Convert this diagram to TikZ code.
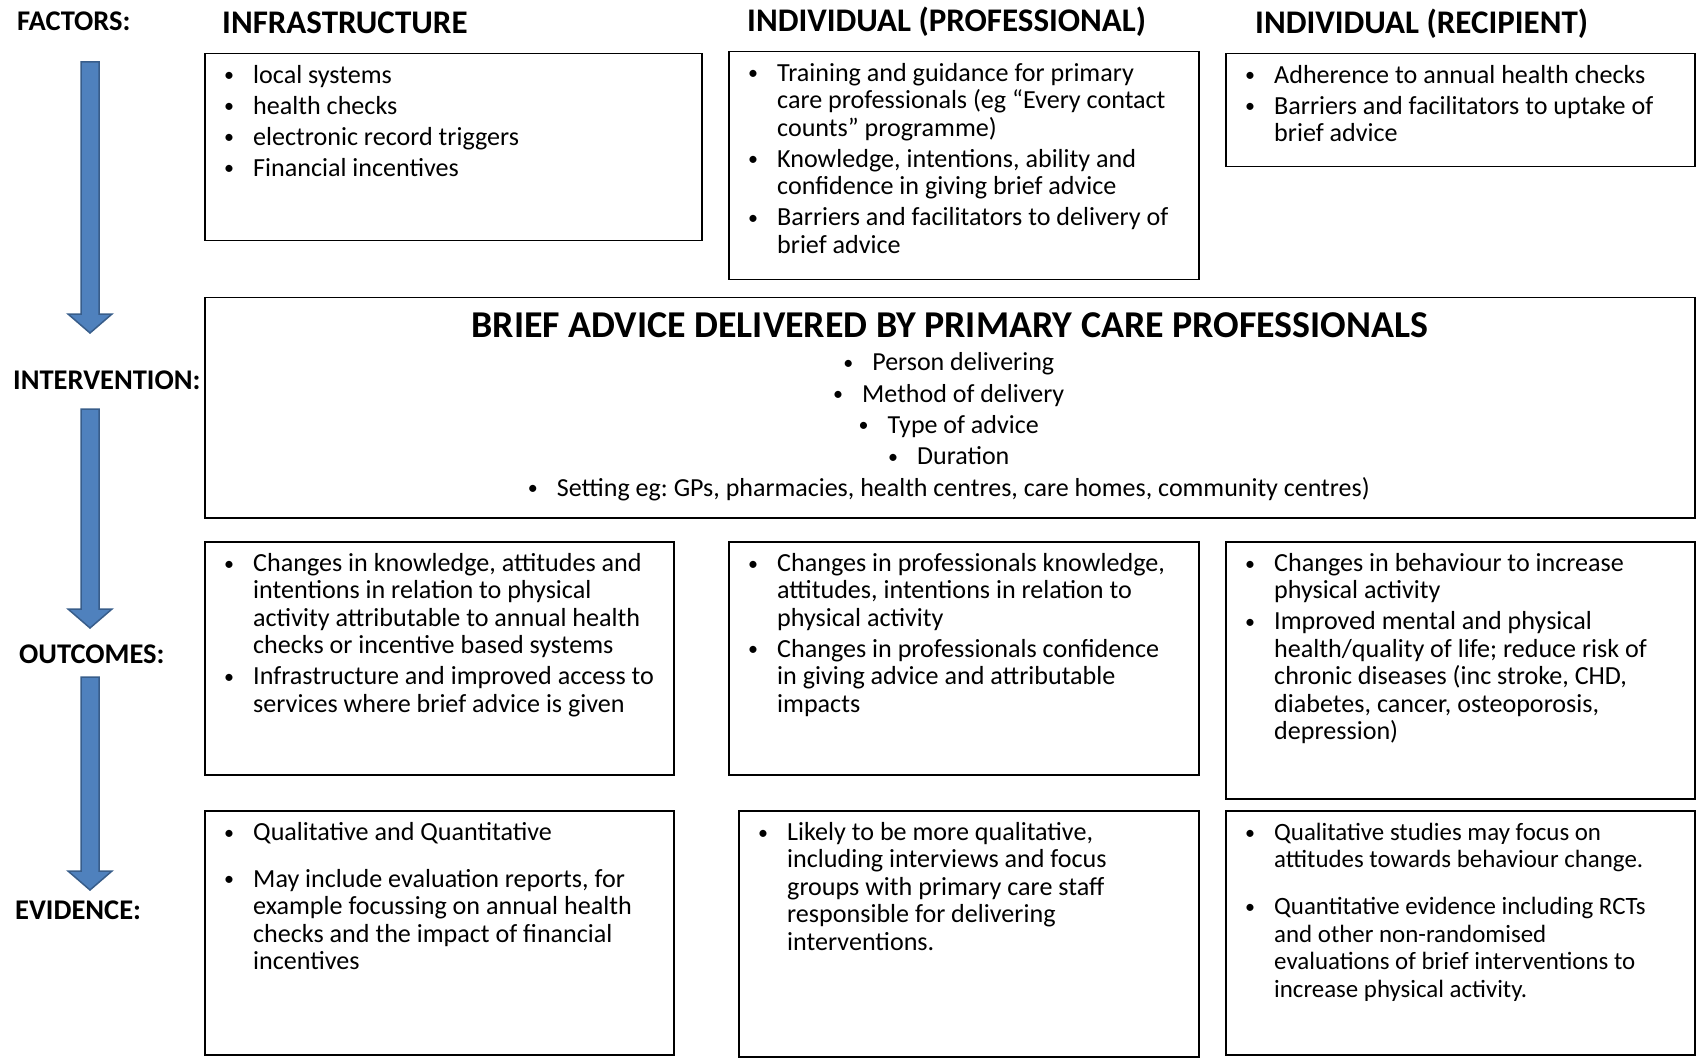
\documentclass[tikz,border=0pt]{standalone}
\usepackage{fontspec}
\setmainfont{Carlito}
\usetikzlibrary{positioning}

\definecolor{arrowblue}{HTML}{4F81BD}
\definecolor{arrowedge}{HTML}{385D8A}

\frenchspacing
\newcommand{\bodyfont}{\fontsize{26.1}{27.4}\selectfont}
\newcommand{\smallbodyfont}{\fontsize{24.9}{27.4}\selectfont}
\newcommand{\centrefont}{\fontsize{26}{31.4}\selectfont}
\newcommand{\headfont}{\bfseries\fontsize{33}{36}\selectfont}
\newcommand{\titlefont}{\bfseries\fontsize{37.9}{40}\selectfont}
\newcommand{\sidefont}{\bfseries\fontsize{28.5}{30}\selectfont}
\newcommand{\dotitem}{\makebox[27pt][l]{\hspace{-2pt}\raisebox{1.5pt}{\fontsize{20}{20}\selectfont\textbullet}}}
\newcommand{\itm}{\par\noindent\hangindent=27pt\hangafter=1\dotitem\ignorespaces}
% top aligned block of bullet items: [gap between items]{width}{items}
\newcommand{\blist}[3][3.6pt]{\parbox[t]{#2pt}{\setlength{\parskip}{#1}#3}}

\tikzset{x=1pt, y=-1pt, % Pixel-like units, y pointing down
        panel/.style={ % Frame of each text box
            draw, line width=1.5pt, anchor=north west, inner sep=0pt},
        bullets/.style={ % Bulleted text inside a frame
            font=\bodyfont, inner sep=0pt, anchor=base west},
        inside/.style={ % First baseline of the text in frame #1
            below right=30.5pt and 22pt of #1.north west, anchor=base west},
        header/.style={font=\headfont, inner sep=0pt, anchor=base west},
        side/.style={font=\sidefont, inner sep=0pt, anchor=base west},
        flow/.style={ % Block arrows on the left
            fill=arrowblue, draw=arrowedge, line width=1.5pt, line join=miter}
        }

\begin{document}
\begin{tikzpicture}
    \useasboundingbox (0,0) rectangle (1697,1059);

    % row labels
    \node[side] (factors)      at (17,31)  {FACTORS:};
    \node[side] (intervention) at (13,389) {INTERVENTION:};
    \node[side] (outcomes)     at (19,663) {OUTCOMES:};
    \node[side] (evidence)     at (15,919) {EVIDENCE:};

    % block arrows
    \foreach \ytop/\ytip in {62/333, 409/628, 677/890}
        \draw[flow] (81,\ytop) -- (99,\ytop) -- (99,\ytip-19) -- (112,\ytip-19)
            -- (90,\ytip) -- (68,\ytip-19) -- (81,\ytip-19) -- cycle;

    % frames
    \node[panel, minimum width=497,  minimum height=187] (fInfra) at (204,53)  {};
    \node[panel, minimum width=470,  minimum height=228] (fProf)  at (728,51)  {};
    \node[panel, minimum width=469,  minimum height=113] (fRecip) at (1225,53) {};
    \node[panel, minimum width=1490, minimum height=220] (interv) at (204,297) {};
    \node[panel, minimum width=469,  minimum height=233] (oInfra) at (204,541) {};
    \node[panel, minimum width=470,  minimum height=233] (oProf)  at (728,541) {};
    \node[panel, minimum width=469,  minimum height=257] (oRecip) at (1225,541) {};
    \node[panel, minimum width=469,  minimum height=244] (eInfra) at (204,810) {};
    \node[panel, minimum width=460,  minimum height=246] (eProf)  at (738,810) {};
    \node[panel, minimum width=469,  minimum height=244] (eRecip) at (1225,810) {};

    % column headers
    \node[header, above right=19.4pt and 18pt of fInfra.north west, anchor=base west] (hInfra) {INFRASTRUCTURE};
    \node[header, above right=19.4pt and 19pt of fProf.north west, anchor=base west]  (hProf)  {INDIVIDUAL (PROFESSIONAL)};
    \node[header, above right=19.4pt and 30pt of fRecip.north west, anchor=base west] (hRecip) {INDIVIDUAL (RECIPIENT)};

    % factors
    \node[bullets, inside=fInfra] (fInfraTxt) {\blist{470}{%
        \itm local systems
        \itm health checks
        \itm electronic record triggers
        \itm Financial incentives}};
    \node[bullets, inside=fProf] (fProfTxt) {\blist{445}{%
        \itm Training and guidance for primary\newline care professionals (eg “Every contact\newline counts” programme)
        \itm Knowledge, intentions, ability and\newline confidence in giving brief advice
        \itm Barriers and facilitators to delivery of\newline brief advice}};
    \node[bullets, inside=fRecip] (fRecipTxt) {\blist{445}{%
        \itm Adherence to annual health checks
        \itm Barriers and facilitators to uptake of\newline brief advice}};

    % intervention
    \node[font=\centrefont, align=flush center, text width=1400, inner sep=0pt,
          below=40pt of interv.north, anchor=base] (intervTxt) {%
        {\titlefont BRIEF ADVICE DELIVERED BY PRIMARY CARE PROFESSIONALS}\\[2.3pt]
        \dotitem Person delivering\\
        \dotitem Method of delivery\\
        \dotitem Type of advice\\
        \dotitem Duration\\
        \dotitem Setting eg: GPs, pharmacies, health centres, care homes, community centres)};

    % outcomes
    \node[bullets, inside=oInfra] (oInfraTxt) {\blist{445}{%
        \itm Changes in knowledge, attitudes and\newline intentions in relation to physical\newline activity attributable to annual health\newline checks or incentive based systems
        \itm Infrastructure and improved access to\newline services where brief advice is given}};
    \node[bullets, inside=oProf] (oProfTxt) {\blist{445}{%
        \itm Changes in professionals knowledge,\newline attitudes, intentions in relation to\newline physical activity
        \itm Changes in professionals confidence\newline in giving advice and attributable\newline impacts}};
    \node[bullets, inside=oRecip] (oRecipTxt) {\blist{445}{%
        \itm Changes in behaviour to increase\newline physical activity
        \itm Improved mental and physical\newline health/quality of life; reduce risk of\newline chronic diseases (inc stroke, CHD,\newline diabetes, cancer, osteoporosis,\newline depression)}};

    % evidence
    \node[bullets, inside=eInfra] (eInfraTxt) {\blist[19.5pt]{445}{%
        \itm Qualitative and Quantitative
        \itm May include evaluation reports, for\newline example focussing on annual health\newline checks and the impact of financial\newline incentives}};
    \node[bullets, inside=eProf] (eProfTxt) {\blist{435}{%
        \itm Likely to be more qualitative,\newline including interviews and focus\newline groups with primary care staff\newline responsible for delivering\newline interventions.}};
    \node[bullets, font=\smallbodyfont, inside=eRecip] (eRecipTxt) {\blist[19.5pt]{445}{%
        \itm Qualitative studies may focus on\newline attitudes towards behaviour change.
        \itm Quantitative evidence including RCTs\newline and other non-randomised\newline evaluations of brief interventions to\newline increase physical activity.}};
\end{tikzpicture}
\end{document}
